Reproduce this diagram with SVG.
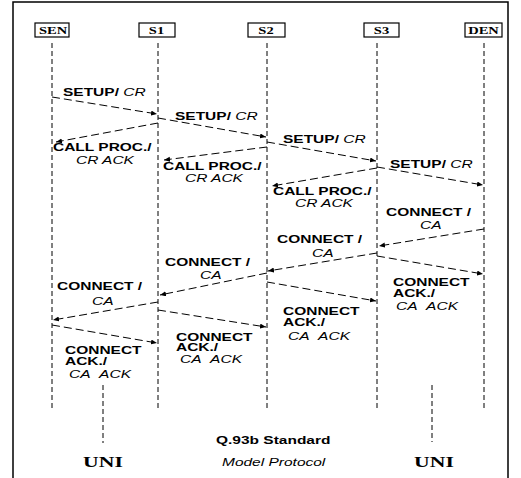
<svg xmlns="http://www.w3.org/2000/svg" width="521" height="478" viewBox="0 0 521 478">
<style>
.frame{fill:none;stroke:#000;stroke-width:1.5}
.box{fill:#fff;stroke:#000;stroke-width:1.2}
.life{stroke:#000;stroke-width:1;stroke-dasharray:5 3;fill:none}
.msg{stroke:#000;stroke-width:1;stroke-dasharray:8 4;fill:none;marker-end:url(#ah)}
.nl{font-family:"Liberation Serif","Times New Roman",serif;font-weight:bold;font-size:10px;text-anchor:middle;fill:#000}
.uni{font-family:"Liberation Serif","Times New Roman",serif;font-weight:bold;font-size:15.5px;text-anchor:middle;fill:#000}
.b{font-family:"Liberation Sans",Arial,sans-serif;font-weight:bold;font-size:10px;fill:#000}
.i{font-family:"Liberation Sans",Arial,sans-serif;font-style:italic;font-size:10px;fill:#000}
</style>
<defs>
<marker id="ah" markerUnits="userSpaceOnUse" markerWidth="7" markerHeight="6" refX="6" refY="2.5" orient="auto">
<path d="M0,0 L6,2.5 L0,5 z" fill="#000"/>
</marker>
</defs>
<rect width="521" height="478" fill="#fff"/>
<path class="frame" d="M13,478 V2 H508 V478"/>

<g id="SEN">
<rect class="box" x="35" y="23" width="34" height="14"/>
<text class="nl" transform="translate(53 33.5) scale(1.45 1)">SEN</text>
<line class="life" x1="52" y1="43" x2="52" y2="411"/>
</g>
<g id="S1">
<rect class="box" x="139" y="23" width="36" height="14"/>
<text class="nl" transform="translate(156.5 33.5) scale(1.45 1)">S1</text>
<line class="life" x1="158" y1="43" x2="158" y2="411"/>
</g>
<g id="S2">
<rect class="box" x="248" y="23" width="37" height="14"/>
<text class="nl" transform="translate(266 33.5) scale(1.45 1)">S2</text>
<line class="life" x1="267" y1="43" x2="267" y2="411"/>
</g>
<g id="S3">
<rect class="box" x="364" y="23" width="35" height="14"/>
<text class="nl" transform="translate(381.5 33.5) scale(1.45 1)">S3</text>
<line class="life" x1="377" y1="43" x2="377" y2="411"/>
</g>
<g id="DEN">
<rect class="box" x="465" y="23" width="37" height="14"/>
<text class="nl" transform="translate(483.5 33.5) scale(1.45 1)">DEN</text>
<line class="life" x1="484" y1="43" x2="484" y2="411"/>
</g>

<g id="connectors">
<line class="msg" x1="52" y1="97" x2="157" y2="114"/>
<line class="msg" x1="158" y1="118" x2="266" y2="137"/>
<line class="msg" x1="267" y1="142" x2="376" y2="161"/>
<line class="msg" x1="377" y1="167" x2="483" y2="185"/>
<line class="msg" x1="158" y1="123" x2="56" y2="142"/>
<line class="msg" x1="267" y1="147" x2="164" y2="160"/>
<line class="msg" x1="377" y1="168" x2="272" y2="186"/>
<line class="msg" x1="484" y1="229" x2="379" y2="246"/>
<line class="msg" x1="377" y1="253" x2="268" y2="271"/>
<line class="msg" x1="267" y1="273" x2="160" y2="295"/>
<line class="msg" x1="158" y1="302" x2="53" y2="320"/>
<line class="msg" x1="377" y1="256" x2="483" y2="274"/>
<line class="msg" x1="267" y1="282" x2="376" y2="301"/>
<line class="msg" x1="158" y1="310" x2="266" y2="327"/>
<line class="msg" x1="52" y1="325" x2="157" y2="343"/>
</g>

<g id="labels">
<text transform="translate(63 96) scale(1.55 1)"><tspan class="b">SETUP/</tspan><tspan class="i"> CR</tspan></text>
<text transform="translate(175 119.5) scale(1.55 1)"><tspan class="b">SETUP/</tspan><tspan class="i"> CR</tspan></text>
<text transform="translate(283 143) scale(1.55 1)"><tspan class="b">SETUP/</tspan><tspan class="i"> CR</tspan></text>
<text transform="translate(390 168) scale(1.55 1)"><tspan class="b">SETUP/</tspan><tspan class="i"> CR</tspan></text>

<text class="b" transform="translate(53 151) scale(1.55 1)">CALL PROC./</text>
<text class="i" transform="translate(76 163.5) scale(1.55 1)">CR ACK</text>
<text class="b" transform="translate(163 169.5) scale(1.55 1)">CALL PROC./</text>
<text class="i" transform="translate(185 182) scale(1.55 1)">CR ACK</text>
<text class="b" transform="translate(273 195) scale(1.55 1)">CALL PROC./</text>
<text class="i" transform="translate(295 207) scale(1.55 1)">CR ACK</text>

<text class="b" transform="translate(386 216) scale(1.55 1)">CONNECT /</text>
<text class="i" transform="translate(420 229) scale(1.55 1)">CA</text>
<text class="b" transform="translate(277 243) scale(1.55 1)">CONNECT /</text>
<text class="i" transform="translate(312 257) scale(1.55 1)">CA</text>
<text class="b" transform="translate(165 266) scale(1.55 1)">CONNECT /</text>
<text class="i" transform="translate(200 279) scale(1.55 1)">CA</text>
<text class="b" transform="translate(57 290) scale(1.55 1)">CONNECT /</text>
<text class="i" transform="translate(92 305) scale(1.55 1)">CA</text>

<text class="b" transform="translate(393 286) scale(1.55 1)">CONNECT</text>
<text class="b" transform="translate(393 297) scale(1.55 1)">ACK./</text>
<text class="i" transform="translate(396 310) scale(1.55 1)">CA&#160;&#160;ACK</text>
<text class="b" transform="translate(283 315) scale(1.55 1)">CONNECT</text>
<text class="b" transform="translate(283 326) scale(1.55 1)">ACK./</text>
<text class="i" transform="translate(288 340) scale(1.55 1)">CA&#160;&#160;ACK</text>
<text class="b" transform="translate(176 341) scale(1.55 1)">CONNECT</text>
<text class="b" transform="translate(176 351) scale(1.55 1)">ACK./</text>
<text class="i" transform="translate(180 363) scale(1.55 1)">CA&#160;&#160;ACK</text>
<text class="b" transform="translate(65 354) scale(1.55 1)">CONNECT</text>
<text class="b" transform="translate(65 365) scale(1.55 1)">ACK./</text>
<text class="i" transform="translate(69 378) scale(1.55 1)">CA&#160;&#160;ACK</text>
</g>

<g id="UNI-left">
<line class="life" x1="103" y1="385" x2="103" y2="443"/>
<text class="uni" transform="translate(103 467) scale(1.4 1)">UNI</text>
</g>
<g id="UNI-right">
<line class="life" x1="432" y1="385" x2="432" y2="442"/>
<text class="uni" transform="translate(434 467) scale(1.4 1)">UNI</text>
</g>
<g id="title">
<text class="b" transform="translate(216 444) scale(1.55 1)">Q.93b Standard</text>
<text class="i" transform="translate(222 466) scale(1.55 1)">Model Protocol</text>
</g>
</svg>
